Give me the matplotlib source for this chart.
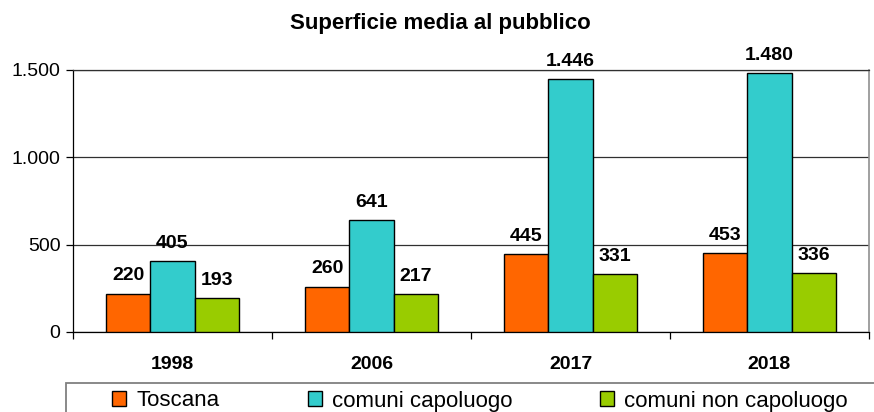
import matplotlib
matplotlib.use("Agg")
import matplotlib.pyplot as plt
from matplotlib.patches import Rectangle, Patch
import numpy as np

plt.rcParams['font.family'] = ['Liberation Sans', 'DejaVu Sans']

categories = ["1998", "2006", "2017", "2018"]
series_names = ["Toscana", "comuni capoluogo", "comuni non capoluogo"]
toscana = [220, 260, 445, 453]
capoluogo = [405, 641, 1446, 1480]
non_capoluogo = [193, 217, 331, 336]
yticks = [0, 500, 1000, 1500]
title = "Superficie media al pubblico"

colors = ["#FF6600", "#33CCCC", "#99CC00"]

def fmt(v):
    return f"{v:,}".replace(",", ".")

fig = plt.figure(figsize=(8.74, 4.12), dpi=100)
ax = fig.add_axes([73/874, 1-332/412, (869-73)/874, (332-70)/412])

x = np.arange(len(categories))
w = 0.223
all_series = [toscana, capoluogo, non_capoluogo]
for i, (vals, c, name) in enumerate(zip(all_series, colors, series_names)):
    bars = ax.bar(x + (i-1)*w, vals, width=w, color=c, edgecolor='black',
                  linewidth=1.0, label=name, zorder=3)
    for b, v in zip(bars, vals):
        ax.annotate(fmt(v), (b.get_x()+b.get_width()/2, v), xytext=(0, 9.5),
                    textcoords='offset points', ha='center', va='baseline',
                    fontsize=14, fontweight='bold', zorder=4)

ax.set_xlim(-0.5, 3.5)
ax.set_ylim(0, 1500)
ax.set_yticks(yticks)
ax.set_yticklabels([fmt(v) for v in yticks], fontsize=14)
ax.yaxis.grid(True, color='#303030', linewidth=0.9, zorder=0)
ax.set_xticks(np.arange(-0.5, 4, 1))
ax.set_xticklabels([])
ax.set_xticks(x, minor=True)
ax.set_xticklabels(categories, minor=True, fontsize=14, fontweight='bold')
ax.tick_params(axis='x', which='minor', length=0, pad=17)
ax.tick_params(axis='x', which='major', length=5, direction='out', width=0.9)
ax.tick_params(axis='y', length=5, direction='out', width=0.9, pad=4)
for s in ['left', 'bottom']:
    ax.spines[s].set_color('black')
    ax.spines[s].set_linewidth(0.9)
ax.spines['top'].set_color('#303030')
ax.spines['top'].set_linewidth(0.9)
ax.spines['right'].set_color('#909090')
ax.spines['right'].set_linewidth(1.2)

fig.text(440/874, 1-23/412, title, ha='center', va='center',
         fontsize=16, fontweight='bold')

# legend frame
fig.patches.append(Rectangle((66/874, -0.05), 1.0, 0.05 + (412-383)/412,
                             transform=fig.transFigure, fill=False,
                             edgecolor='#808080', linewidth=1.3))
legx = [112, 308, 600]
ly = 1 - 401/412
for name, c, lx in zip(series_names, colors, legx):
    fig.legend(handles=[Patch(facecolor=c, edgecolor='black', linewidth=1.0)],
               labels=[name], loc='center left', bbox_to_anchor=(lx/874, ly),
               frameon=False, fontsize=16, borderpad=0, borderaxespad=0,
               handlelength=0.65, handleheight=0.65, handletextpad=0.45)

fig.savefig("out.png", dpi=100)
